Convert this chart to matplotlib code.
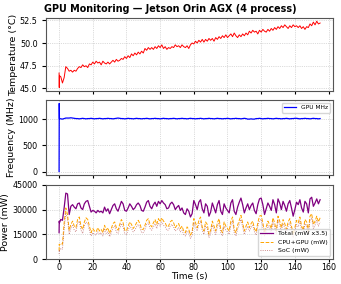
import matplotlib
matplotlib.use("Agg")
import matplotlib.pyplot as plt
import numpy as np

# sample times (s)
t = [0, 0.1, 0.2] + list(range(1, 156))

temp_c = [
    46.7, 45.1, 46.4,
    46.3, 45.6, 46.2, 47.4, 47.2, 46.9, 47.0, 46.8, 47.0, 46.9,
    47.2, 47.4, 47.3, 47.6, 47.4, 47.5, 47.3, 47.7, 47.6, 47.9,
    47.7, 48.0, 47.8, 47.9, 47.6, 48.0, 47.8, 47.7, 47.9, 47.7,
    47.9, 48.1, 47.9, 48.2, 48.0, 48.1, 48.3, 48.2, 48.5, 48.3,
    48.6, 48.4, 48.8, 48.6, 48.9, 48.7, 49.0, 48.8, 49.1, 48.9,
    49.4, 49.2, 49.5, 49.3, 49.5, 49.3, 49.6, 49.4, 49.7, 49.5,
    49.8, 49.4, 49.6, 49.3, 49.5, 49.4, 49.6, 49.5, 49.8, 49.6,
    49.7, 49.5, 49.8, 49.6, 49.5, 49.7, 49.4, 49.8, 50.0, 49.9,
    50.2, 50.0, 50.3, 50.1, 50.4, 50.1, 50.4, 50.2, 50.5, 50.3,
    50.5, 50.2, 50.6, 50.4, 50.7, 50.5, 50.8, 50.6, 50.9, 50.6,
    50.8, 51.0, 50.7, 51.1, 50.8, 50.6, 50.9, 50.7, 51.0, 50.8,
    51.1, 50.9, 51.3, 51.1, 51.4, 51.2, 51.3, 51.0, 51.4, 51.2,
    51.5, 51.3, 51.2, 51.5, 51.3, 51.6, 51.4, 51.7, 51.5, 51.8,
    51.6, 51.9, 51.7, 52.0, 51.8, 51.6, 51.9, 51.7, 52.0, 51.8,
    51.9, 51.7, 51.9, 51.6, 51.8, 51.5, 51.8, 51.7, 52.1, 51.9,
    52.3, 52.0, 52.4, 52.1, 52.2,
]

gpu_mhz = [
    0, 1300, 1010,
    1005, 1000, 1010, 1020, 1020, 1020, 1025, 1020, 1015, 1010,
    1010, 1005, 1010, 1015, 1010, 1005, 1010, 1010, 1015, 1010,
    1005, 1010, 1010, 1015, 1010, 1005, 1010, 1010, 1015, 1010,
    1010, 1005, 1010, 1015, 1020, 1015, 1010, 1010, 1005, 1010,
    1015, 1010, 1010, 1005, 1010, 1015, 1010, 1010, 1005, 1010,
    1010, 1015, 1010, 1005, 1010, 1010, 1015, 1010, 1010, 1005,
    1010, 1015, 1010, 1010, 1005, 1010, 1010, 1015, 1010, 1005,
    1010, 1010, 1015, 1010, 1010, 1005, 1010, 1015, 1010, 1010,
    1005, 1010, 1010, 1015, 1010, 1005, 1010, 1010, 1015, 1010,
    1010, 1005, 1010, 1015, 1010, 1010, 1005, 1010, 1010, 1015,
    1010, 1005, 1010, 1010, 1015, 1010, 1010, 1005, 1010, 1015,
    1010, 1000, 1000, 1005, 1000, 1000, 1010, 1010, 1015, 1010,
    1005, 1010, 1010, 1015, 1010, 1010, 1005, 1010, 1015, 1010,
    1010, 1005, 1010, 1010, 1015, 1010, 1005, 1010, 1010, 1015,
    1015, 1010, 1005, 1010, 1010, 1015, 1010, 1010, 1005, 1010,
    1015, 1010, 1010, 1005, 1010,
]

total_mw = [
    16000, 23000, 22000,
    24000, 23500, 31000, 40000, 39500, 27000, 32000, 33000, 31500, 30500,
    33500, 34000, 31000, 30000, 33500, 35000, 35500, 32000, 28500, 29500,
    29000, 28000, 29500, 28500, 29000, 28000, 31500, 29000, 30500, 27500,
    30000, 32500, 33500, 30500, 29000, 32000, 35000, 33500, 29500, 29000,
    31000, 33500, 32000, 30000, 31000, 33000, 34000, 32500, 29500, 29000,
    31500, 34500, 35500, 32000, 30500, 33000, 34500, 32000, 35000, 33500,
    35500, 34000, 33000, 30500, 31000, 33500, 34500, 33000, 30000, 31500,
    32500, 29500, 31000, 28000, 27000, 30500, 29000, 25500, 27500, 35500,
    33000, 30000, 34500, 36000, 30500, 28000, 33500, 32000, 26000, 28500,
    34000, 31000, 28000, 33000, 35500, 29000, 27000, 33500, 31000, 29500,
    28000, 34000, 36000, 29000, 27000, 31500, 34500, 37000, 33000, 28000,
    31000, 33500, 30000, 32500, 34000, 29500, 27500, 33000, 36500, 37000,
    33000, 27000, 30500, 34000, 32000, 29500, 36000, 33000, 28000, 36500,
    34000, 30000, 35000, 32500, 29000, 33500, 35500, 31000, 26000, 30000,
    34500, 33000, 36000, 31000, 28500, 35000, 33500, 28000, 36500, 37500,
    32000, 34000, 36500, 33500, 36000,
]

cpu_gpu_mw = [
    5000, 9000, 8500,
    9500, 9000, 22000, 31000, 27000, 17500, 21000, 23000, 20000, 19000,
    24000, 25500, 20000, 18000, 22500, 25000, 24000, 20000, 16000, 18500,
    17000, 16500, 19000, 17000, 18000, 16000, 20500, 17500, 19000, 15500,
    18500, 21500, 22500, 19000, 17500, 21000, 24000, 22000, 17500, 17000,
    20000, 22500, 21000, 18500, 20000, 22000, 23500, 21500, 18000, 18000,
    20500, 23500, 24500, 21000, 19500, 22000, 24000, 21000, 24500, 22500,
    25000, 23000, 22000, 19500, 20000, 22500, 23500, 22000, 19000, 20500,
    21500, 18500, 20000, 17000, 16000, 19500, 18000, 14500, 16500, 24500,
    22000, 19000, 23500, 25500, 19500, 17000, 22500, 21000, 15000, 17500,
    23000, 20000, 17000, 22000, 24500, 18000, 16000, 22500, 20000, 18500,
    17000, 23000, 25500, 18000, 16000, 20500, 23500, 26500, 22000, 17000,
    20000, 22500, 19000, 21500, 23000, 18500, 16500, 22000, 26000, 26500,
    22000, 16000, 19500, 23000, 21000, 18500, 25000, 22000, 17000, 26000,
    23000, 19000, 24000, 21500, 18000, 22500, 24500, 20000, 15000, 19000,
    23500, 22000, 25500, 20000, 17500, 24000, 22500, 17000, 26000, 27500,
    21000, 23000, 26000, 22500, 25000,
]

soc_mw = [
    3000, 5500, 5000,
    6500, 6000, 18000, 28000, 24500, 15000, 18500, 20500, 17500, 16500,
    21500, 23000, 17500, 15500, 20000, 22500, 21500, 17500, 14000, 16000,
    15000, 14500, 16500, 15000, 16000, 14000, 18000, 15500, 16500, 13500,
    16000, 19000, 20000, 16500, 15500, 18500, 21500, 19500, 15500, 15000,
    17500, 20000, 18500, 16500, 17500, 19500, 21000, 19000, 16000, 16000,
    18000, 21000, 22000, 18500, 17500, 19500, 21500, 18500, 22000, 20000,
    22500, 20500, 19500, 17500, 17500, 20000, 21000, 19500, 17000, 18000,
    19000, 16500, 17500, 15000, 14000, 17000, 16000, 12500, 14500, 22000,
    19500, 17000, 21000, 23000, 17500, 15000, 20000, 18500, 13000, 15500,
    20500, 17500, 15000, 19500, 22000, 16000, 14000, 20000, 17500, 16500,
    15000, 20500, 23000, 16000, 14000, 18000, 21000, 24000, 19500, 15000,
    17500, 20000, 17000, 19000, 20500, 16500, 14500, 19500, 23500, 24000,
    19500, 14000, 17000, 20500, 18500, 16500, 22500, 19500, 15000, 23500,
    20500, 17000, 21500, 19000, 16000, 20000, 22000, 17500, 13000, 17000,
    21000, 19500, 23000, 17500, 15500, 21500, 20000, 15000, 23500, 25000,
    18500, 20500, 23500, 20000, 22500,
]

fig = plt.figure(figsize=(3.41, 2.84), dpi=100)
ax1 = fig.add_axes([0.135, 0.680, 0.842, 0.257])
ax2 = fig.add_axes([0.135, 0.384, 0.842, 0.264], sharex=ax1)
ax3 = fig.add_axes([0.135, 0.088, 0.842, 0.261], sharex=ax1)

ax1.plot(t, temp_c, color="red", lw=0.7)
ax1.set_ylabel("Temperature (°C)", fontsize=6.8, labelpad=1.5)
ax1.set_yticks([45.0, 47.5, 50.0, 52.5])

ax2.plot(t, gpu_mhz, color="blue", lw=0.9, label="GPU MHz")
ax2.set_ylabel("Frequency (MHz)", fontsize=6.8, labelpad=1.5)
ax2.set_yticks([0, 500, 1000])
ax2.legend(loc="upper right", fontsize=4.2)

ax3.plot(t, total_mw, color="purple", lw=0.9, label="Total (mW x3.5)")
ax3.plot(t, cpu_gpu_mw, color="orange", lw=0.7, ls="--", label="CPU+GPU (mW)")
ax3.plot(t, soc_mw, color="brown", lw=0.6, ls=":", alpha=0.7, label="SoC (mW)")
ax3.set_ylim(0, 45000)
ax3.set_yticks([0, 15000, 30000, 45000])
ax3.set_ylabel("Power (mW)", fontsize=6.8, labelpad=1.5)
ax3.set_xlabel("Time (s)", fontsize=6.5, labelpad=0)
ax3.legend(loc="lower right", fontsize=4.5)

for ax in (ax1, ax2, ax3):
    ax.grid(True, ls=":", lw=0.5, color="#bbbbbb")
    ax.tick_params(axis="y", labelsize=5.8, length=3, pad=3)
    ax.tick_params(axis="x", labelsize=5.8, length=2, pad=1)
    for s in ax.spines.values():
        s.set_color("#555555")
        s.set_linewidth(0.8)
plt.setp(ax1.get_xticklabels(), visible=False)
plt.setp(ax2.get_xticklabels(), visible=False)

fig.suptitle("GPU Monitoring — Jetson Orin AGX (4 process)", fontsize=6.9,
             fontweight="bold", x=0.5, y=0.985)

fig.savefig("out.png", dpi=100)
